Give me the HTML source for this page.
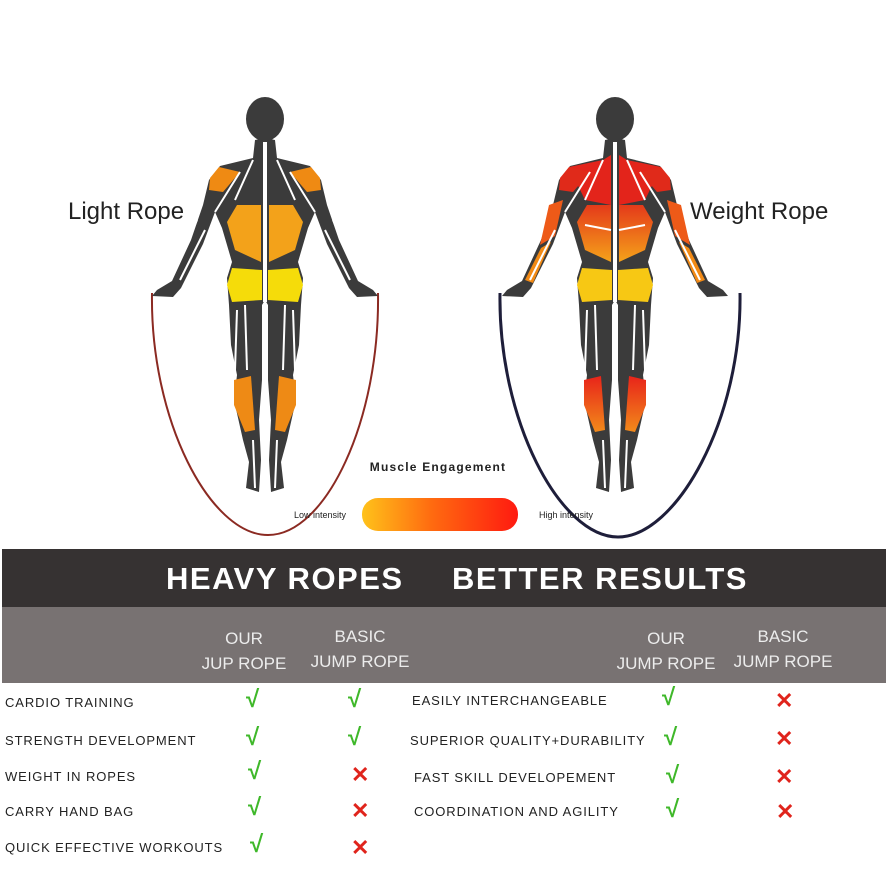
<!DOCTYPE html>
<html><head><meta charset="utf-8"><style>
body{margin:0;width:886px;height:886px;background:#fff;position:relative;overflow:hidden;font-family:"Liberation Sans",sans-serif}
.t{position:absolute;white-space:nowrap}
.lab{position:absolute;font-size:13px;color:#222;letter-spacing:0.9px;white-space:nowrap}
.ck{position:absolute;color:#3fb82a;font-size:24px;font-weight:bold;line-height:24px}
.x{position:absolute;color:#e0241c;font-size:22px;font-weight:bold;line-height:22px}
.h{position:absolute;color:#ececec;font-size:17px;text-align:center;line-height:25px;width:140px}
</style></head><body>
<svg width="886" height="560" style="position:absolute;left:0;top:0">
<defs>
<linearGradient id="bar" x1="0" x2="1"><stop offset="0" stop-color="#ffc21a"/><stop offset="0.45" stop-color="#ff6a10"/><stop offset="1" stop-color="#ff1a10"/></linearGradient>
<linearGradient id="rl" x1="0" y1="0" x2="0" y2="1"><stop offset="0" stop-color="#e43a1a"/><stop offset="1" stop-color="#f5a21a"/></linearGradient>
<linearGradient id="rc" x1="0" y1="0" x2="0" y2="1"><stop offset="0" stop-color="#e8241a"/><stop offset="1" stop-color="#f28a1a"/></linearGradient>
</defs>
<path d="M152,293 C150,420 210,535 268,535 C326,535 380,420 378,293" fill="none" stroke="#8b2a22" stroke-width="2"/>
<path d="M500,293 C498,420 560,537 618,537 C676,537 742,420 740,293" fill="none" stroke="#1e1e3a" stroke-width="3"/>
<g transform="translate(265,0)">
<g id="halfL">
<path d="M0,138 L-10,140 L-12,158 L-45,166 L-56,180 L-62,205 L-74,240 L-93,281 L-108,290 L-113,296 L-92,297 L-84,288 L-62,244 L-50,212 L-43,228 L-33,262 L-38,278 L-36,305 L-34,345 L-28,375 L-31,400 L-22,440 L-16,462 L-19,488 L-6,492 L-4,460 L-6,420 L-3,380 L-3,305 L0,300 Z" fill="#3b3b3b"/>
<path d="M-46,167 L-25,172 L-42,192 L-56,190 L-55,178 Z" fill="#ef8a13"/>
<path d="M-4,205 L-28,205 L-38,222 L-30,250 L-4,262 Z" fill="#f3a21a"/>
<path d="M-3,270 L-33,268 L-38,285 L-33,302 L-3,300 Z" fill="#f5dc0a"/>
<path d="M-31,380 L-14,376 L-10,430 L-20,432 L-31,405 Z" fill="#ee8a15"/>
<path d="M-12,160 L-30,200 M-25,172 L-50,212 M-60,230 L-85,280 M-68,220 L-90,270 M-20,305 L-18,370 M-28,310 L-30,370 M-12,440 L-10,488" stroke="#fff" stroke-width="2" fill="none"/>
</g>
<use href="#halfL" transform="scale(-1,1)"/>
<ellipse cx="0" cy="119" rx="19" ry="22" fill="#3b3b3b"/>
<rect x="-2" y="142" width="4" height="160" fill="#fff"/>
</g>
<g transform="translate(615,0)">
<g id="halfR">
<path d="M0,138 L-10,140 L-12,158 L-45,166 L-56,180 L-62,205 L-74,240 L-93,281 L-108,290 L-113,296 L-92,297 L-84,288 L-62,244 L-50,212 L-43,228 L-33,262 L-38,278 L-36,305 L-34,345 L-28,375 L-31,400 L-22,440 L-16,462 L-19,488 L-6,492 L-4,460 L-6,420 L-3,380 L-3,305 L0,300 Z" fill="#3b3b3b"/>
<path d="M-4,155 L-12,160 L-46,167 L-30,200 L-4,205 Z" fill="#e3241b"/>
<path d="M-46,167 L-25,172 L-42,192 L-56,190 L-55,178 Z" fill="#e02a1a"/>
<path d="M-4,205 L-28,205 L-38,222 L-30,250 L-4,262 Z" fill="url(#rl)"/>
<path d="M-52,200 L-60,236 L-75,245 L-66,205 Z" fill="#ee5a18"/>
<path d="M-64,242 L-74,248 L-90,280 L-82,283 Z" fill="#f28a15"/>
<path d="M-3,270 L-33,268 L-38,285 L-33,302 L-3,300 Z" fill="#f7c814"/>
<path d="M-31,380 L-14,376 L-10,430 L-20,432 L-31,405 Z" fill="url(#rc)"/>
<path d="M-12,160 L-30,200 M-25,172 L-50,212 M-60,230 L-85,280 M-20,305 L-18,370 M-28,310 L-30,370 M-12,440 L-10,488 M-4,230 L-30,225" stroke="#fff" stroke-width="2" fill="none"/>
</g>
<use href="#halfR" transform="scale(-1,1)"/>
<ellipse cx="0" cy="119" rx="19" ry="22" fill="#3b3b3b"/>
<rect x="-2" y="142" width="4" height="160" fill="#fff"/>
</g>
<rect x="362" y="498" width="156" height="33" rx="16" fill="url(#bar)"/>
<text x="438" y="471" font-size="12" font-weight="bold" letter-spacing="1.2" text-anchor="middle" fill="#222" font-family="Liberation Sans">Muscle Engagement</text>
<text x="320" y="518" font-size="9" text-anchor="middle" fill="#222" font-family="Liberation Sans">Low intensity</text>
<text x="566" y="518" font-size="9" text-anchor="middle" fill="#222" font-family="Liberation Sans">High intensity</text>
</svg>
<div class="t" style="left:68px;top:198px;font-size:24px;color:#222">Light Rope</div>
<div class="t" style="left:690px;top:198px;font-size:24px;color:#222">Weight Rope</div>
<div style="position:absolute;left:2px;top:549px;width:884px;height:58px;background:#363232"></div>
<div style="position:absolute;left:2px;top:607px;width:884px;height:76px;background:#787272"></div>
<div class="t" style="left:166px;top:561px;font-size:31px;font-weight:bold;color:#fff;letter-spacing:1.5px">HEAVY ROPES</div>
<div class="t" style="left:452px;top:561px;font-size:31px;font-weight:bold;color:#fff;letter-spacing:1.5px">BETTER RESULTS</div>
<div class="h" style="left:174px;top:626px">OUR<br>JUP ROPE</div>
<div class="h" style="left:290px;top:624px">BASIC<br>JUMP ROPE</div>
<div class="h" style="left:596px;top:626px">OUR<br>JUMP ROPE</div>
<div class="h" style="left:713px;top:624px">BASIC<br>JUMP ROPE</div>
<div class="lab" style="left:5px;top:695px">CARDIO TRAINING</div>
<div class="lab" style="left:5px;top:733px">STRENGTH DEVELOPMENT</div>
<div class="lab" style="left:5px;top:769px">WEIGHT IN ROPES</div>
<div class="lab" style="left:5px;top:804px">CARRY HAND BAG</div>
<div class="lab" style="left:5px;top:840px">QUICK EFFECTIVE WORKOUTS</div>
<div class="lab" style="left:412px;top:693px">EASILY INTERCHANGEABLE</div>
<div class="lab" style="left:410px;top:733px">SUPERIOR QUALITY+DURABILITY</div>
<div class="lab" style="left:414px;top:770px">FAST SKILL DEVELOPEMENT</div>
<div class="lab" style="left:414px;top:804px">COORDINATION AND AGILITY</div>
<div class="ck" style="left:246px;top:688px">√</div>
<div class="ck" style="left:348px;top:688px">√</div>
<div class="ck" style="left:246px;top:726px">√</div>
<div class="ck" style="left:348px;top:726px">√</div>
<div class="ck" style="left:248px;top:760px">√</div>
<div class="ck" style="left:248px;top:796px">√</div>
<div class="ck" style="left:250px;top:833px">√</div>
<div class="x" style="left:351px;top:764px">✕</div>
<div class="x" style="left:351px;top:800px">✕</div>
<div class="x" style="left:351px;top:837px">✕</div>
<div class="ck" style="left:662px;top:686px">√</div>
<div class="ck" style="left:664px;top:726px">√</div>
<div class="ck" style="left:666px;top:764px">√</div>
<div class="ck" style="left:666px;top:798px">√</div>
<div class="x" style="left:775px;top:690px">✕</div>
<div class="x" style="left:775px;top:728px">✕</div>
<div class="x" style="left:775px;top:766px">✕</div>
<div class="x" style="left:776px;top:801px">✕</div>
</body></html>
